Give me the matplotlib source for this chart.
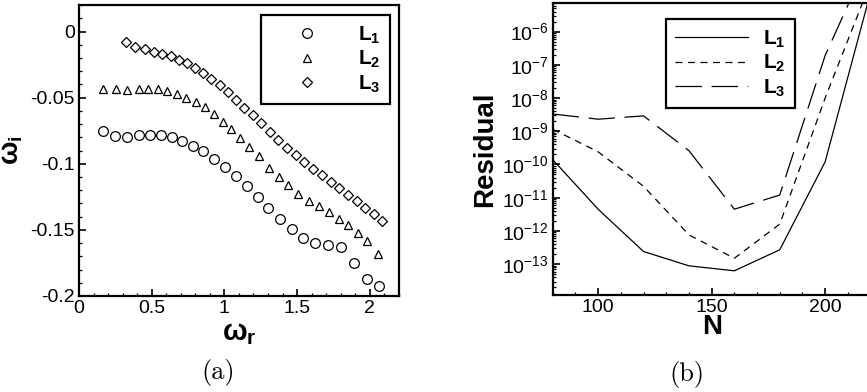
import numpy as np
import matplotlib
matplotlib.use("Agg")
import matplotlib.pyplot as plt
from matplotlib.ticker import MultipleLocator, LogLocator, NullFormatter

plt.rcParams['font.family'] = ['Liberation Sans', 'DejaVu Sans']
plt.rcParams['mathtext.fontset'] = 'custom'
plt.rcParams['mathtext.rm'] = 'Liberation Sans'
plt.rcParams['mathtext.bf'] = 'Liberation Sans:bold'
plt.rcParams['mathtext.it'] = 'Liberation Sans:italic'
plt.rcParams['lines.scale_dashes'] = False

# (a) eigenvalues
wr1 = [0.163, 0.248, 0.329, 0.416, 0.487, 0.561, 0.637, 0.710, 0.782, 0.855, 0.929, 1.005, 1.078,
       1.154, 1.230, 1.303, 1.382, 1.462, 1.540, 1.625, 1.713, 1.800, 1.892, 1.979, 2.064]
wi1 = [-0.075, -0.079, -0.080, -0.0785, -0.0783, -0.0785, -0.080, -0.0826, -0.0864, -0.0907, -0.0962,
       -0.1023, -0.1096, -0.1169, -0.125, -0.1336, -0.1417, -0.1495, -0.1558, -0.1601, -0.1611,
       -0.1629, -0.175, -0.1871, -0.1924]
wr2 = [0.163, 0.257, 0.333, 0.411, 0.476, 0.543, 0.607, 0.674, 0.738, 0.805, 0.867, 0.926, 0.989,
       1.048, 1.110, 1.172, 1.239, 1.308, 1.375, 1.439, 1.508, 1.579, 1.651, 1.720, 1.789, 1.853,
       1.917, 1.984, 2.053]
wi2 = [-0.0437, -0.0432, -0.0442, -0.0437, -0.0437, -0.0437, -0.0447, -0.047, -0.0503, -0.0533,
       -0.0573, -0.0624, -0.0684, -0.074, -0.0806, -0.0874, -0.0942, -0.103, -0.1098, -0.1164,
       -0.1227, -0.1278, -0.1321, -0.1366, -0.1417, -0.1465, -0.1523, -0.1581, -0.1679]
wr3 = [0.322, 0.386, 0.451, 0.513, 0.572, 0.632, 0.685, 0.740, 0.795, 0.851, 0.910, 0.968, 1.025,
       1.083, 1.138, 1.195, 1.253, 1.313, 1.370, 1.428, 1.490, 1.549, 1.609, 1.669, 1.731, 1.791,
       1.853, 1.910, 1.968, 2.028, 2.085]
wi3 = [-0.0078, -0.0116, -0.0134, -0.0152, -0.0167, -0.0187, -0.0212, -0.024, -0.0275, -0.0311,
       -0.0356, -0.0407, -0.046, -0.0518, -0.0576, -0.0634, -0.0694, -0.0758, -0.0818, -0.0879,
       -0.0937, -0.099, -0.1038, -0.1086, -0.1134, -0.1184, -0.1235, -0.1283, -0.1336, -0.1379,
       -0.1434]

# (b) residual vs N
N = [80, 100, 120, 140, 160, 180, 200, 220]
res1 = [1.4e-10, 4.5e-12, 2.4e-13, 8.9e-14, 6.3e-14, 2.7e-13, 1.2e-10, 1.5e-5]
res2 = [1.15e-9, 2.4e-10, 2.2e-11, 7.6e-13, 1.5e-13, 1.6e-12, 1.0e-8, 3e-5]
res3 = [3.3e-9, 2.3e-9, 2.9e-9, 2.6e-10, 4.5e-12, 1.2e-11, 1.9e-7, 2e-4]

labels = [r'$\mathbf{L_1}$', r'$\mathbf{L_2}$', r'$\mathbf{L_3}$']

fig = plt.figure(figsize=(8.67, 3.92), dpi=100)
ax1 = fig.add_axes([0.0911, 0.2449, 0.369, 0.742])
ax2 = fig.add_axes([0.6375, 0.2482, 0.3666, 0.7434])


def style(ax):
    for s in ax.spines.values():
        s.set_linewidth(1.6)
    ax.tick_params(which='both', direction='in', top=False, right=False, labelsize=14)
    ax.tick_params(which='major', length=5, width=1.2, pad=3)
    ax.tick_params(which='minor', length=2.5, width=0.9)


ax1.plot(wr1, wi1, 'o', ms=7, mfc='none', mec='black', mew=0.9, label=labels[0])
ax1.plot(wr2, wi2, '^', ms=6, mfc='none', mec='black', mew=0.9, label=labels[1])
ax1.plot(wr3, wi3, 'D', ms=5.5, mfc='none', mec='black', mew=0.9, label=labels[2])
ax1.set_xlim(0, 2.2)
ax1.set_ylim(-0.2, 0.02)
ax1.xaxis.set_major_locator(MultipleLocator(0.5))
ax1.xaxis.set_minor_locator(MultipleLocator(0.1))
ax1.yaxis.set_major_locator(MultipleLocator(0.05))
ax1.yaxis.set_minor_locator(MultipleLocator(0.01))
ax1.xaxis.set_major_formatter(lambda v, p: '%g' % v)
ax1.yaxis.set_major_formatter(lambda v, p: '%g' % round(v, 3))
style(ax1)
ax1.set_xlabel(r'$\mathbf{\omega_r}$', fontsize=21, labelpad=1)
ax1.set_ylabel(r'$\mathbf{\omega_i}$', fontsize=20)
ax1.yaxis.set_label_coords(-0.17, 0.5)
leg1 = ax1.legend(loc='upper right', bbox_to_anchor=(0.972, 0.966), borderaxespad=0,
                  fontsize=15, handlelength=3.5, handletextpad=0.7, labelspacing=0.15,
                  borderpad=0.45, fancybox=False, framealpha=1, edgecolor='black')
leg1.get_frame().set_linewidth(1.6)

ax2.semilogy(N, res1, '-', color='black', lw=0.9, label=labels[0])
ax2.semilogy(N, res2, color='black', lw=0.9, dashes=(5, 4), label=labels[1])
ax2.semilogy(N, res3, color='black', lw=0.9, dashes=(19, 7), label=labels[2])
ax2.set_xlim(80, 220)
ax2.set_ylim(10 ** -13.92, 10 ** -5.15)
ax2.xaxis.set_major_locator(MultipleLocator(50))
ax2.xaxis.set_minor_locator(MultipleLocator(10))
ax2.yaxis.set_major_locator(LogLocator(base=10, numticks=30))
ax2.yaxis.set_minor_locator(LogLocator(base=10, subs=np.arange(2, 10), numticks=30))
ax2.yaxis.set_minor_formatter(NullFormatter())
style(ax2)
ax2.set_xlabel('N', fontsize=20, fontweight='bold', labelpad=-1)
ax2.set_ylabel('Residual', fontsize=20, fontweight='bold', labelpad=3)
leg2 = ax2.legend(loc='upper right', bbox_to_anchor=(0.762, 0.946), borderaxespad=0,
                  fontsize=15, handlelength=3.5, handletextpad=0.7, labelspacing=0.15,
                  borderpad=0.45, fancybox=False, framealpha=1, edgecolor='black')
leg2.get_frame().set_linewidth(1.6)

fig.text(218 / 867, 1 - 372 / 392, '(a)', fontfamily='cmr10', fontsize=19, ha='center', va='center')
fig.text(687 / 867, 1 - 374 / 392, '(b)', fontfamily='cmr10', fontsize=19, ha='center', va='center')

fig.savefig('out.png', dpi=100)
